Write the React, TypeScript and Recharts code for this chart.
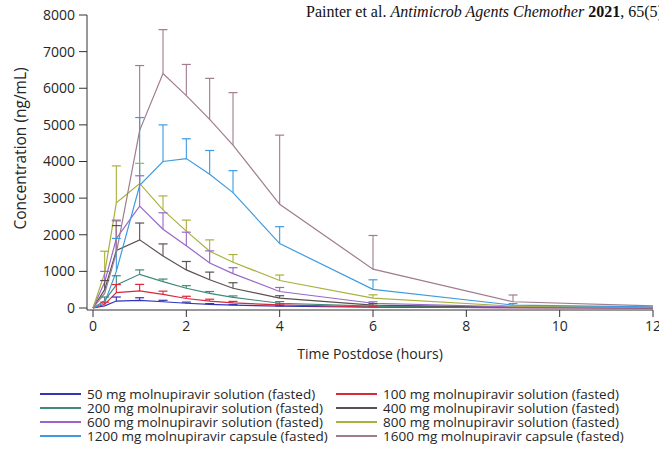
import {
  ComposedChart,
  ErrorBar,
  Line,
  Scatter,
  XAxis,
  YAxis,
} from "recharts";

// sampling times (h)
const TIMES = [0, 0.25, 0.5, 1, 1.5, 2, 2.5, 3, 4, 6, 9, 12];

// mean concentrations (ng/mL)
const MEAN_50 = [0, 60, 190, 210, 170, 130, 100, 80, 50, 20, 8, 4];
const MEAN_100 = [0, 100, 420, 465, 370, 260, 190, 140, 85, 30, 10, 5];
const MEAN_200 = [0, 200, 630, 920, 720, 540, 400, 290, 130, 50, 15, 8];
const MEAN_400 = [0, 500, 1570, 1860, 1420, 1040, 770, 540, 270, 80, 20, 10];
const MEAN_600 = [0, 700, 1900, 2780, 2150, 1700, 1230, 940, 450, 130, 30, 10];
const MEAN_800 = [0, 950, 2870, 3400, 2680, 2100, 1550, 1250, 750, 270, 50, 20];
const MEAN_1200 = [0, 150, 1000, 3350, 4000, 4080, 3650, 3150, 1760, 510, 80, 30];
const MEAN_1600 = [0, 400, 1500, 4850, 6400, 5800, 5150, 4450, 2830, 1060, 170, 60];

// upper SD bars (null = not drawn)
const SD_50 = [null, null, 110, 70, 40, 30, 20, 15, 10, null, null, null];
const SD_100 = [null, 60, 220, 180, 90, 60, 50, 40, 30, 15, null, null];
const SD_200 = [null, 100, 250, 120, 70, 70, 50, 40, 45, 20, null, null];
const SD_400 = [null, 250, 680, 460, 330, 230, 210, 150, 65, 40, null, null];
const SD_600 = [null, 300, 480, 830, 450, 370, 330, 160, 110, 40, null, null];
const SD_800 = [null, 600, 1010, 550, 380, 300, 310, 210, 150, 90, null, null];
const SD_1200 = [null, null, 900, 1850, 1000, 540, 650, 600, 460, 260, 40, null];
const SD_1600 = [null, null, 900, 1770, 1200, 850, 1120, 1430, 1890, 920, 185, null];

const X_TICKS = [0, 2, 4, 6, 8, 10, 12];
const Y_TICKS = [0, 1000, 2000, 3000, 4000, 5000, 6000, 7000, 8000];

const FONT = "'Open Sans', sans-serif";
const TEXT = "#262626";

const SERIES = [
  { name: "50 mg molnupiravir solution (fasted)", color: "#3434b8", mean: MEAN_50, sd: SD_50 },
  { name: "100 mg molnupiravir solution (fasted)", color: "#d8283a", mean: MEAN_100, sd: SD_100 },
  { name: "200 mg molnupiravir solution (fasted)", color: "#3f8a78", mean: MEAN_200, sd: SD_200 },
  { name: "400 mg molnupiravir solution (fasted)", color: "#5a5050", mean: MEAN_400, sd: SD_400 },
  { name: "600 mg molnupiravir solution (fasted)", color: "#9966c8", mean: MEAN_600, sd: SD_600 },
  { name: "800 mg molnupiravir solution (fasted)", color: "#a9b13c", mean: MEAN_800, sd: SD_800 },
  { name: "1200 mg molnupiravir capsule (fasted)", color: "#3f9be0", mean: MEAN_1200, sd: SD_1200 },
  { name: "1600 mg molnupiravir capsule (fasted)", color: "#a07c8e", mean: MEAN_1600, sd: SD_1600 },
];

function lineData(mean: number[]) {
  return TIMES.map((t, i) => ({ t, v: mean[i] }));
}

function barData(mean: number[], sd: (number | null)[]) {
  const out: { t: number; top: number; sd: number }[] = [];
  TIMES.forEach((t, i) => {
    const s = sd[i];
    if (s == null) return;
    out.push({ t, top: mean[i] + s, sd: s });
  });
  return out;
}

// small horizontal cap drawn at the top of each SD bar
function capShape(color: string) {
  return (props: any) => {
    const { cx, cy } = props;
    if (cx == null || cy == null) return <g />;
    return <line x1={cx - 4.5} x2={cx + 4.5} y1={cy} y2={cy} stroke={color} strokeWidth={1.2} />;
  };
}

// rotated y title, sitting a bit above the plot's middle like the original
function YTitle(props: any) {
  const { x, y, height } = props.viewBox;
  const cx = x + 13;
  const cy = y + height / 2 - 14;
  return (
    <text
      x={cx}
      y={cy}
      transform={`rotate(-90 ${cx} ${cy})`}
      textAnchor="middle"
      dominantBaseline="central"
      fontFamily={FONT}
      fontSize={15.5}
      fill={TEXT}
    >
      Concentration (ng/mL)
    </text>
  );
}

function LegendBox() {
  return (
    <div
      style={{
        position: "absolute",
        left: 40,
        top: 387,
        display: "grid",
        gridTemplateColumns: "296px 300px",
        fontFamily: FONT,
        fontSize: 13.5,
        color: TEXT,
        lineHeight: "14px",
      }}
    >
      {SERIES.map((s) => (
        <div key={s.name} style={{ display: "flex", alignItems: "center", whiteSpace: "nowrap", height: 14 }}>
          <span style={{ display: "inline-block", width: 41, height: 1.5, background: s.color, marginRight: 6 }} />
          <span>{s.name}</span>
        </div>
      ))}
    </div>
  );
}

export default function App() {
  return (
    <div
      style={{
        position: "absolute",
        left: 0,
        top: 0,
        width: 659,
        height: 452,
        overflow: "hidden",
        background: "#fff",
      }}
    >
      <div
        style={{
          position: "absolute",
          left: 306,
          top: 3,
          whiteSpace: "nowrap",
          fontFamily: "'Liberation Serif', 'Times New Roman', serif",
          fontSize: 16,
          color: "#111",
        }}
      >
        Painter et al. <i>Antimicrob Agents Chemother</i> <b>2021</b>, 65(5)
      </div>

      <ComposedChart width={659} height={370} margin={{ top: 15, right: 6, left: 7, bottom: 10 }}>
        <XAxis
          type="number"
          dataKey="t"
          domain={[0, 12]}
          ticks={X_TICKS}
          interval={0}
          padding={{ left: 6, right: 0 }}
          height={50}
          tickSize={7}
          tickMargin={4}
          stroke="#333"
          tick={{ fontSize: 14, fill: TEXT, fontFamily: FONT }}
          label={{
            value: "Time Postdose (hours)",
            position: "insideBottom",
            offset: 1,
            style: { fontSize: 14, fill: TEXT, fontFamily: FONT },
          }}
        />
        <YAxis
          type="number"
          domain={[0, 8000]}
          ticks={Y_TICKS}
          interval={0}
          padding={{ top: 0, bottom: 2 }}
          width={80}
          tickSize={8}
          tickMargin={4}
          stroke="#333"
          tick={{ fontSize: 14, fill: TEXT, fontFamily: FONT }}
          label={{ value: "Concentration (ng/mL)", content: YTitle }}
        />
        {SERIES.map((s) => (
          <Line
            key={"l" + s.name}
            data={lineData(s.mean)}
            dataKey="v"
            type="linear"
            stroke={s.color}
            strokeWidth={1.2}
            dot={false}
            activeDot={false}
            isAnimationActive={false}
            legendType="none"
          />
        ))}
        {SERIES.map((s) => (
          <Scatter
            key={"e" + s.name}
            data={barData(s.mean, s.sd)}
            dataKey="top"
            shape={capShape(s.color)}
            isAnimationActive={false}
            legendType="none"
          >
            <ErrorBar
              dataKey={(d: any) => [d.sd, 0]}
              direction="y"
              width={0}
              stroke={s.color}
              strokeWidth={1.1}
              isAnimationActive={false}
            />
          </Scatter>
        ))}
      </ComposedChart>

      <LegendBox />
    </div>
  );
}
